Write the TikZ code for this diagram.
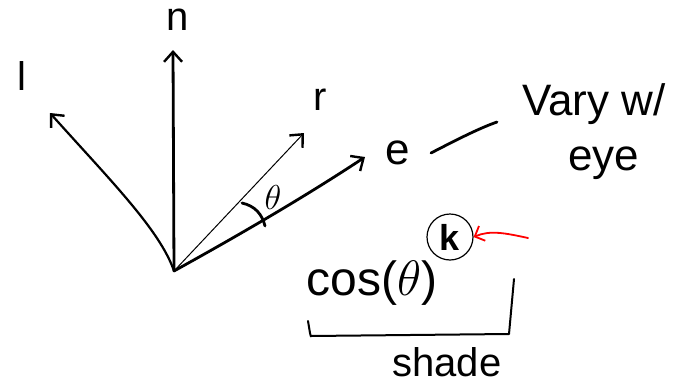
\documentclass[tikz,border=0pt]{standalone}
\usepackage{fontspec}
\setmainfont{Liberation Sans}
\usetikzlibrary{arrows.meta}
\begin{document}
\begin{tikzpicture}[x=0.5pt,y=-0.5pt,
  ink/.style={line width=1.4pt,line cap=round,line join=round},
  thinink/.style={line width=0.5pt,line cap=round},
  vec/.style={-{Straight Barb[length=5pt,width=9pt,line width=1.2pt]}},
  lbl/.style={inner sep=0pt,font=\fontsize{20}{22}\selectfont},
  txt/.style={inner sep=0pt,font=\fontsize{20}{22}\selectfont}]
\useasboundingbox (0,0) rectangle (686,386);
% origin and tips
\coordinate (O) at (174,271);
\coordinate (nT) at (173,50);
\coordinate (lT) at (50,113);
\coordinate (rT) at (304,133);
\coordinate (eT) at (365,157);
% vectors
\draw[ink,vec] (O) -- (nT);
\draw[ink,line width=1.1pt,vec] (O) .. controls (160,230) and (110,180) .. (lT);
\draw[thinink,vec] (O) -- (rT);
\draw[ink,vec] (O) .. controls (230,240) and (300,200) .. (eT);
% labels
\node[lbl] (nlab) at (178,20) {n};
\node[lbl] (llab) at (22,76) {l};
\node[lbl] (rlab) at (320,100) {r};
\node[lbl,font=\fontsize{22}{24}\selectfont] (elab) at (398,153) {e};
% theta arc
\coordinate (a1) at (242,203);
\coordinate (a2) at (265,226);
\draw[ink] (a1) .. controls (255,206) and (262,214) .. (a2);
\node[inner sep=0pt,font=\fontsize{17}{18}\selectfont] (th) at (273,197) {$\theta$};
% vary with eye
\node[txt,font=\fontsize{22}{24}\selectfont,anchor=west] (vary) at (522,104) {Vary w/};
\node[txt,font=\fontsize{22}{24}\selectfont] (eye) at (604,163) {eye};
\coordinate (c1) at (431,153);
\coordinate (c2) at (497,122);
\draw[ink] (c1) .. controls (460,138) and (480,128) .. (c2);
% cos theta ^ k
\node[txt,font=\fontsize{24}{26}\selectfont] (cos) at (372,283) {cos($\theta$)};
\node[circle,draw,line width=0.6pt,minimum size=23pt,inner sep=0pt,font=\fontsize{18}{20}\selectfont\bfseries] (k) at (450,237) {k};
\coordinate (rs) at (528,238);
\draw[red,line width=0.9pt,line cap=round,-{Straight Barb[length=4pt,width=8pt]}] (rs) .. controls (505,233) and (490,230) .. (k.east);
% bracket
\coordinate (b1) at (308,321);
\coordinate (b2) at (311,336);
\coordinate (b3) at (509,334);
\coordinate (b4) at (514,279);
\draw[ink,line width=1pt] (b1) -- (310,333) .. controls (311,337) .. (b2) -- (b3) -- (b4);
\node[txt] (shade) at (447,362) {shade};
\end{tikzpicture}
\end{document}
